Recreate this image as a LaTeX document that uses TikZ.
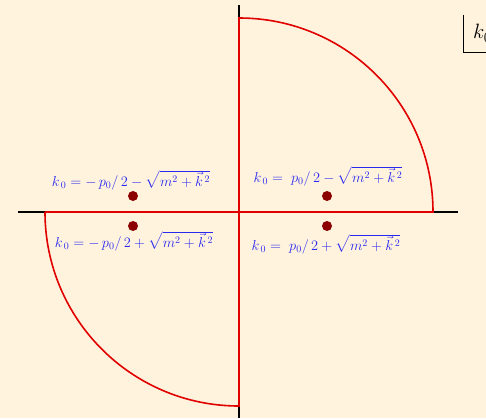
\documentclass[tikz,border=0pt]{standalone}
\usepackage{amsmath, amssymb}
\usepackage{tikz}
\usepackage{xcolor}
\definecolor{paper}{RGB}{255,243,222}
\definecolor{polecol}{RGB}{140,0,0}
\definecolor{labcol}{RGB}{40,40,240}
\definecolor{contcol}{RGB}{225,0,0}

\begin{document}
\begin{tikzpicture}[x=1pt, y=1pt,
    pole/.style={circle, fill=polecol, inner sep=0pt, minimum size=10pt},
    polelab/.style={text=labcol, font=\fontsize{14.5}{17}\selectfont, inner sep=1pt},
    axis/.style={line width=1.4pt, black}]
  \fill[paper] (-239,-206) rectangle (247,212);
  \useasboundingbox (-239,-206) rectangle (247,212);
  % axes
  \coordinate (xl) at (-221,0);  \coordinate (xr) at (219,0);
  \coordinate (yb) at (0,-206);  \coordinate (yt) at (0,207);
  \draw[axis] (xl) -- (xr);
  \draw[axis] (yb) -- (yt);
  % contour
  \coordinate (cl) at (-194,0);  \coordinate (cr) at (194,0);
  \coordinate (cb) at (0,-194);
  \draw[contcol, line width=1.6pt] (cl) -- (cr) arc (0:90:194) -- (cb) arc (270:180:194);
  % poles
  \node[pole] (p1) at (-106,16) {};  \node[polelab] (l1) at (-108,32) {$k_{\,0}=-\,p_0/\,2-\sqrt{m^2+\vec k^{\,2}}$};
  \node[pole] (p2) at (-106,-14) {}; \node[polelab] (l2) at (-105,-29) {$k_{\,0}=-\,p_0/\,2+\sqrt{m^2+\vec k^{\,2}}$};
  \node[pole] (p3) at (88,16) {};    \node[polelab] (l3) at (89,36) {$k_{\,0}=\;p_0/\,2-\sqrt{m^2+\vec k^{\,2}}$};
  \node[pole] (p4) at (88,-14) {};   \node[polelab] (l4) at (87,-32) {$k_{\,0}=\;p_0/\,2+\sqrt{m^2+\vec k^{\,2}}$};
  % plane label
  \node[anchor=south west, font=\fontsize{22}{24}\selectfont, inner xsep=10pt, minimum height=37pt] (kbox) at (224,160) {$k_0$};
  \draw[line width=0.8pt] (kbox.north west) -- (kbox.south west) -- (kbox.south east);
\end{tikzpicture}
\end{document}
